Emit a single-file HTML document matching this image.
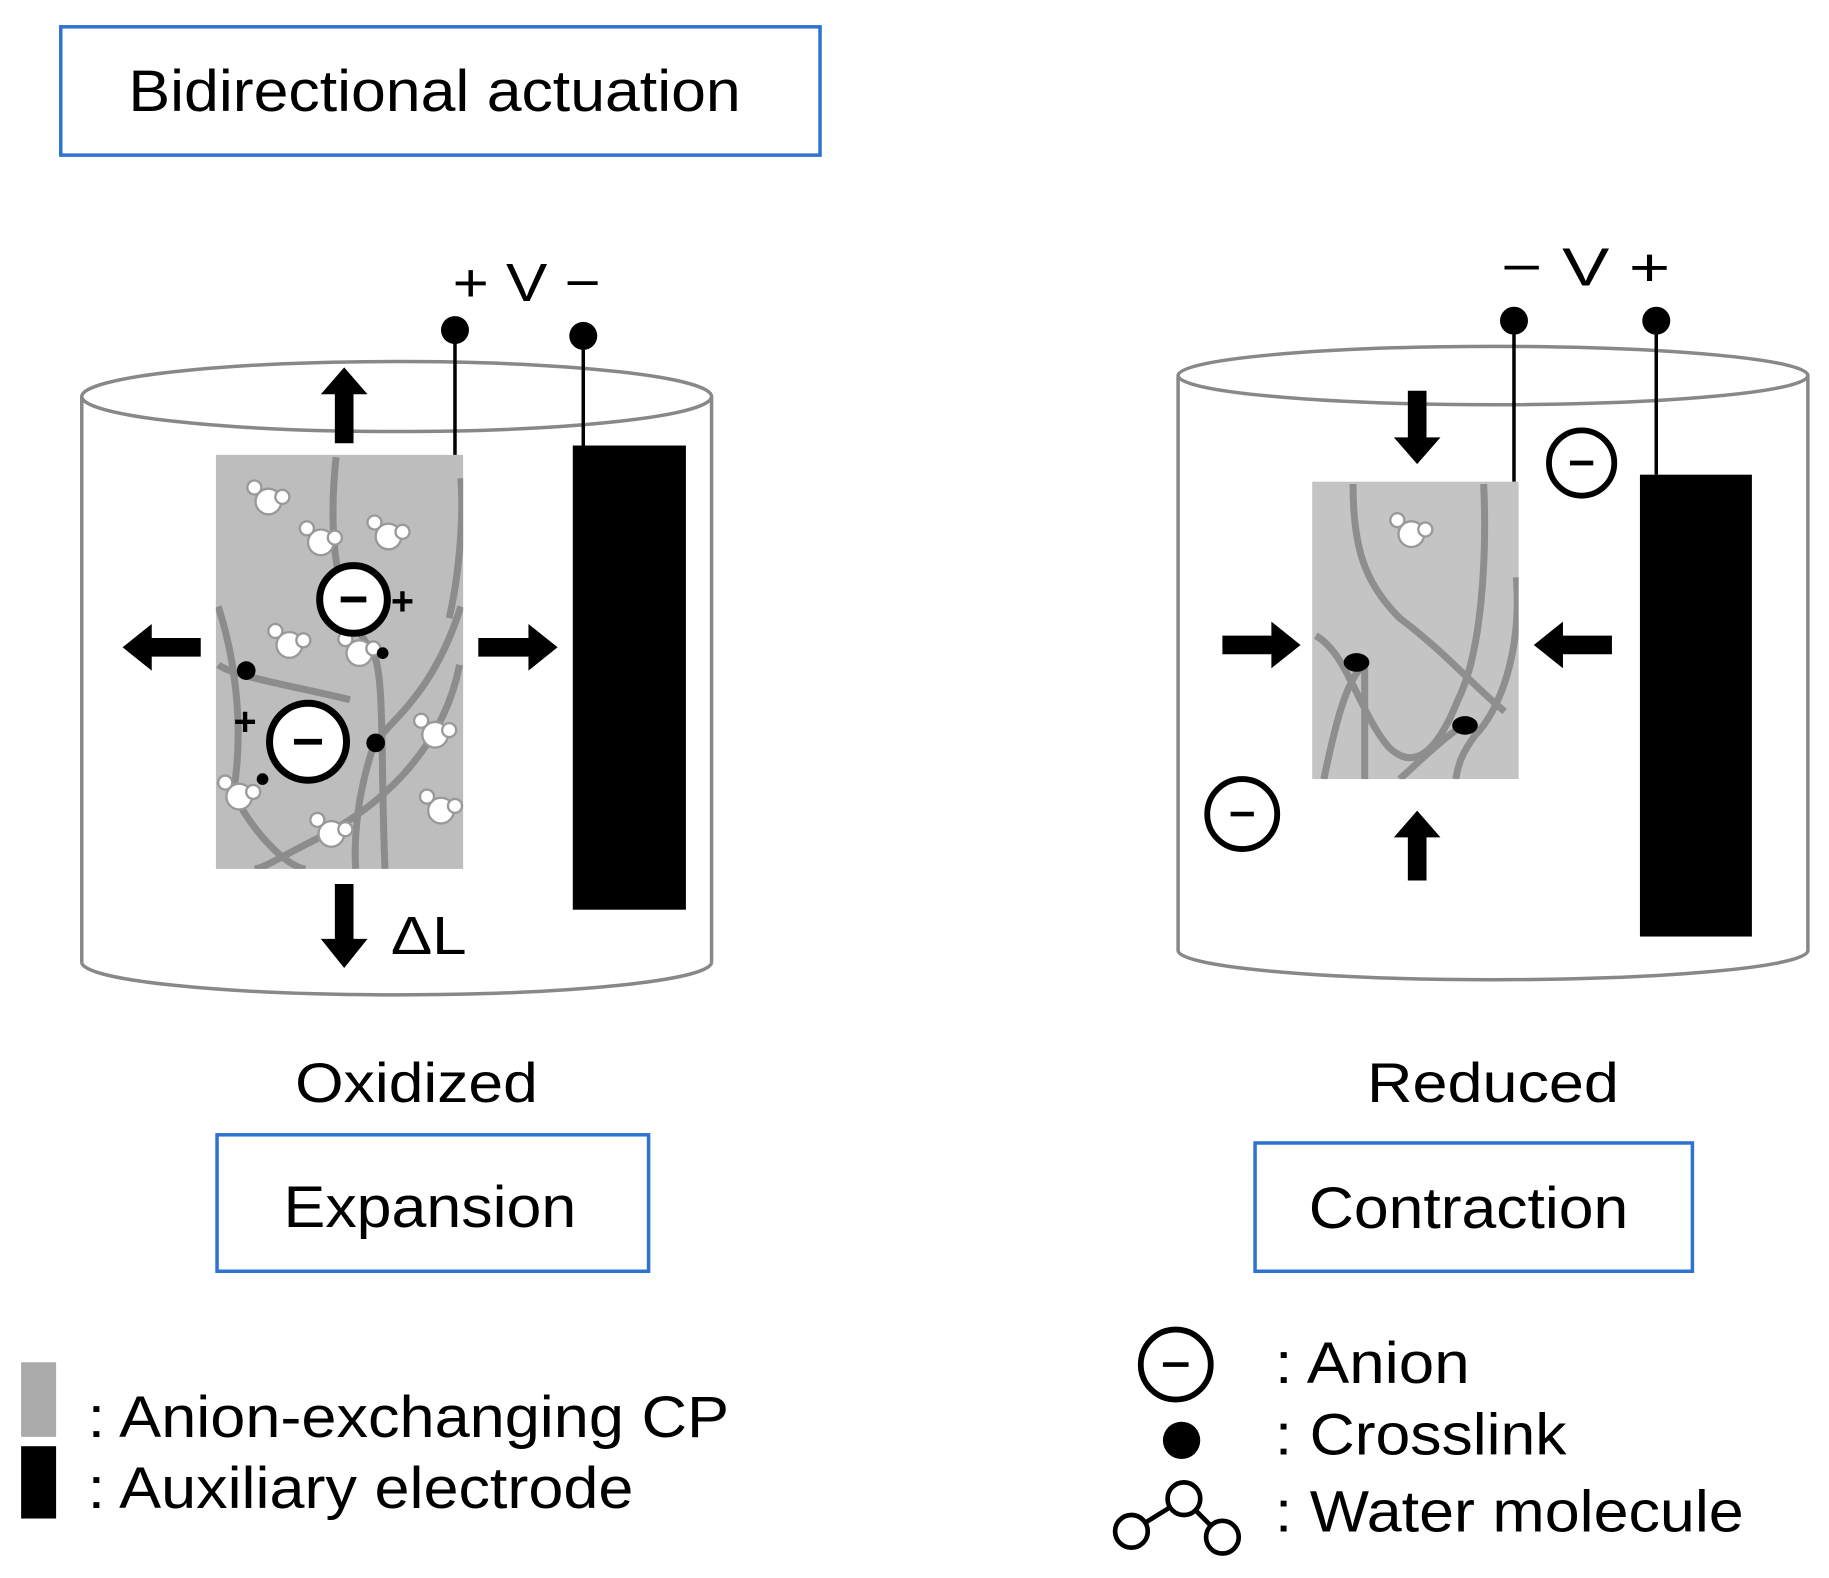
<!DOCTYPE html>
<html><head><meta charset="utf-8"><style>html,body{margin:0;padding:0;background:#fff}svg{display:block}</style></head>
<body>
<svg width="1829" height="1578" viewBox="0 0 1568 1353" xmlns="http://www.w3.org/2000/svg" font-family="Liberation Sans, Arial, sans-serif">
<defs>
<g id="w"><circle cx="0" cy="0" r="11" fill="#fff" stroke="#999" stroke-width="2"/><circle cx="-12" cy="-12" r="6" fill="#fff" stroke="#999" stroke-width="2"/><circle cx="12" cy="-4" r="6" fill="#fff" stroke="#999" stroke-width="2"/></g>
<clipPath id="g1"><rect x="185" y="390" width="212" height="355"/></clipPath>
<clipPath id="g2"><rect x="1125" y="413" width="177" height="255"/></clipPath>
</defs>
<rect x="52" y="23" width="651" height="110" fill="none" stroke="#2e72d2" stroke-width="3"/>
<text x="110" y="95" font-size="50" textLength="525" lengthAdjust="spacingAndGlyphs">Bidirectional actuation</text>

<g fill="none" stroke="#888" stroke-width="3">
<ellipse cx="340" cy="340" rx="270" ry="30"/>
<line x1="70" y1="340" x2="70" y2="825"/><line x1="610" y1="340" x2="610" y2="825"/>
<path d="M70 825 A270 28 0 0 0 610 825"/>
</g>
<rect x="185" y="390" width="212" height="355" fill="#bdbdbd"/>
<g fill="none" stroke="#8c8c8c" stroke-width="6" clip-path="url(#g1)">
<path d="M288 392 C280 470 290 520 320 560 C330 580 326 650 330 745"/>
<path d="M395 410 C398 450 392 500 385 530"/>
<path d="M394 570 C380 640 330 690 270 720 C240 735 225 745 218 745"/>
<path d="M187 570 C200 580 260 590 300 600"/>
<path d="M187 520 C200 560 210 620 200 680 C220 720 250 745 262 745"/>
<path d="M395 520 C370 600 330 620 320 640 C300 700 305 745 305 745"/>
</g>
<use href="#w" x="230" y="430"/><use href="#w" x="275" y="465"/><use href="#w" x="333" y="460"/>
<use href="#w" x="248" y="553"/><use href="#w" x="308" y="560"/><use href="#w" x="373" y="630"/>
<use href="#w" x="205" y="683"/><use href="#w" x="378" y="695"/><use href="#w" x="284" y="715"/>
<circle cx="303" cy="514" r="29" fill="#fff" stroke="#000" stroke-width="6"/><line x1="292" y1="514" x2="314" y2="514" stroke="#000" stroke-width="5"/>
<text x="345" y="527" font-size="34" text-anchor="middle" font-weight="bold">+</text>
<circle cx="264" cy="636" r="33" fill="#fff" stroke="#000" stroke-width="6"/><line x1="252" y1="636" x2="276" y2="636" stroke="#000" stroke-width="5"/>
<text x="210" y="630" font-size="34" text-anchor="middle" font-weight="bold">+</text>
<circle cx="211" cy="575" r="8"/><circle cx="322" cy="637" r="8"/><circle cx="328" cy="560" r="5"/><circle cx="225" cy="668" r="5"/>
<rect x="491" y="382" width="97" height="398" fill="#000"/>
<line x1="390" y1="283" x2="390" y2="390" stroke="#000" stroke-width="3"/><circle cx="390" cy="283" r="12"/>
<line x1="500" y1="288" x2="500" y2="382" stroke="#000" stroke-width="3"/><circle cx="500" cy="288" r="12"/>
<text x="388" y="258" font-size="46" textLength="127" lengthAdjust="spacingAndGlyphs">+ V −</text>
<g fill="#000">
<polygon points="295,315 315,338 303,338 303,380 287,380 287,338 275,338"/>
<polygon points="295,830 315,805 303,805 303,758 287,758 287,805 275,805"/>
<polygon points="105,555 130,535 130,547 172,547 172,563 130,563 130,575"/>
<polygon points="478,555 453,535 453,547 410,547 410,563 453,563 453,575"/>
</g>
<text x="335" y="818" font-size="46" textLength="65" lengthAdjust="spacingAndGlyphs">ΔL</text>
<text x="253" y="945" font-size="48" textLength="208" lengthAdjust="spacingAndGlyphs">Oxidized</text>
<rect x="186" y="973" width="370" height="117" fill="none" stroke="#2e72d2" stroke-width="3"/>
<text x="243" y="1052" font-size="50" textLength="251" lengthAdjust="spacingAndGlyphs">Expansion</text>

<g fill="none" stroke="#888" stroke-width="3">
<ellipse cx="1280" cy="322" rx="270" ry="25"/>
<line x1="1010" y1="322" x2="1010" y2="815"/><line x1="1550" y1="322" x2="1550" y2="815"/>
<path d="M1010 815 A270 25 0 0 0 1550 815"/>
</g>
<rect x="1125" y="413" width="177" height="255" fill="#c4c4c4"/>
<g fill="none" stroke="#8e8e8e" stroke-width="6" clip-path="url(#g2)">
<path d="M1160 415 C1160 470 1170 500 1200 530 C1240 560 1265 590 1290 610"/>
<path d="M1272 415 C1275 480 1270 560 1250 600 C1230 650 1210 660 1190 640 C1165 610 1155 560 1128 545"/>
<path d="M1300 495 C1305 560 1285 610 1265 630 C1250 650 1250 660 1248 668"/>
<path d="M1135 668 C1145 620 1155 580 1170 570 L1170 668"/>
<path d="M1200 668 C1220 650 1240 630 1258 620"/>
</g>
<use href="#w" x="1210" y="458"/>
<ellipse cx="1163" cy="568" rx="11" ry="8"/><ellipse cx="1256" cy="622" rx="11" ry="8"/>
<rect x="1406" y="407" width="96" height="396" fill="#000"/>
<line x1="1298" y1="275" x2="1298" y2="413" stroke="#000" stroke-width="3"/><circle cx="1298" cy="275" r="12"/>
<line x1="1420" y1="275" x2="1420" y2="407" stroke="#000" stroke-width="3"/><circle cx="1420" cy="275" r="12"/>
<text x="1287" y="245" font-size="46" textLength="145" lengthAdjust="spacingAndGlyphs">− V  +</text>
<circle cx="1356" cy="397" r="28" fill="#fff" stroke="#000" stroke-width="5"/><line x1="1346" y1="397" x2="1366" y2="397" stroke="#000" stroke-width="4"/>
<circle cx="1065" cy="698" r="30" fill="#fff" stroke="#000" stroke-width="5"/><line x1="1055" y1="698" x2="1075" y2="698" stroke="#000" stroke-width="4"/>
<g fill="#000">
<polygon points="1215,398 1235,375 1223,375 1223,335 1207,335 1207,375 1195,375"/>
<polygon points="1215,695 1235,718 1223,718 1223,755 1207,755 1207,718 1195,718"/>
<polygon points="1115,553 1090,533 1090,545 1048,545 1048,561 1090,561 1090,573"/>
<polygon points="1315,553 1340,533 1340,545 1382,545 1382,561 1340,561 1340,573"/>
</g>
<text x="1172" y="945" font-size="48" textLength="216" lengthAdjust="spacingAndGlyphs">Reduced</text>
<rect x="1076" y="980" width="375" height="110" fill="none" stroke="#2e72d2" stroke-width="3"/>
<text x="1122" y="1053" font-size="50" textLength="274" lengthAdjust="spacingAndGlyphs">Contraction</text>

<rect x="18" y="1168" width="30" height="64" fill="#aaa"/>
<rect x="18" y="1240" width="30" height="62" fill="#000"/>
<text x="75" y="1232" font-size="50" textLength="550" lengthAdjust="spacingAndGlyphs">: Anion-exchanging CP</text>
<text x="75" y="1293" font-size="50" textLength="468" lengthAdjust="spacingAndGlyphs">: Auxiliary electrode</text>
<circle cx="1008" cy="1170" r="30" fill="#fff" stroke="#000" stroke-width="5"/><line x1="997" y1="1170" x2="1019" y2="1170" stroke="#000" stroke-width="4"/>
<circle cx="1013" cy="1235" r="16"/>
<g stroke="#000" stroke-width="4" fill="#fff">
<line x1="970" y1="1313" x2="1015" y2="1285"/><line x1="1015" y1="1285" x2="1048" y2="1318"/>
<circle cx="970" cy="1313" r="14"/><circle cx="1015" cy="1285" r="14"/><circle cx="1048" cy="1318" r="14"/>
</g>
<text x="1093" y="1186" font-size="50" textLength="167" lengthAdjust="spacingAndGlyphs">: Anion</text>
<text x="1093" y="1247" font-size="50" textLength="250" lengthAdjust="spacingAndGlyphs">: Crosslink</text>
<text x="1093" y="1313" font-size="50" textLength="402" lengthAdjust="spacingAndGlyphs">: Water molecule</text>
</svg>
</body></html>
